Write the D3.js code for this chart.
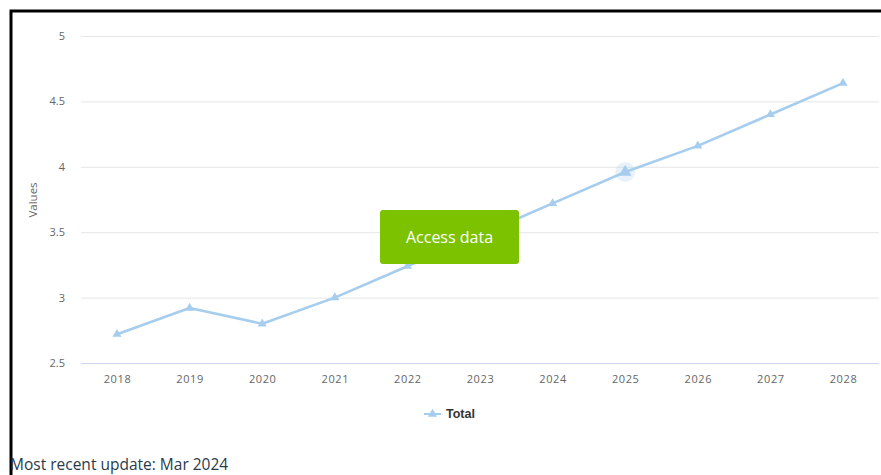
<!DOCTYPE html>
<html>
<head>
<meta charset="utf-8">
<script src="https://cdn.jsdelivr.net/npm/d3@7"></script>
<style>
  body { margin: 0; background: #fff; font-family: "Open Sans", "DejaVu Sans", sans-serif; }
</style>
</head>
<body>
<div id="chart-area"></div>
<script>
// data
var years = ["2018", "2019", "2020", "2021", "2022", "2023", "2024", "2025", "2026", "2027", "2028"];
var totals = [2.72, 2.92, 2.8, 3.0, 3.24, 3.48, 3.72, 3.96, 4.16, 4.4, 4.64];
var yTicks = [2.5, 3, 3.5, 4, 4.5, 5];

var svg = d3.select("#chart-area")
  .append("svg")
  .attr("width", 881)
  .attr("height", 475);

svg.append("rect")
  .attr("width", 881)
  .attr("height", 475)
  .attr("fill", "#fff");

// frame (top + left border of the screenshot)
svg.append("path")
  .attr("d", "M11,475 V11 H881")
  .attr("fill", "none")
  .attr("stroke", "#000")
  .attr("stroke-width", 3);

var plotLeft = 81, plotRight = 879, plotTop = 36, plotBottom = 363;

var x = d3.scalePoint()
  .domain(years)
  .range([117, 843]);

var y = d3.scaleLinear()
  .domain([2.5, 5])
  .range([plotBottom, plotTop]);

// gridlines
var yAxis = d3.axisLeft(y)
  .tickValues(yTicks)
  .tickSize(-(plotRight - plotLeft))
  .tickPadding(16)
  .tickFormat(d3.format("~g"));

var gy = svg.append("g")
  .attr("transform", "translate(" + plotLeft + ",0)")
  .call(yAxis);
gy.select(".domain").remove();
gy.selectAll(".tick line")
  .attr("stroke", "#e6e6e6")
  .attr("stroke-width", 1);
gy.selectAll(".tick text")
  .attr("fill", "#666")
  .attr("font-size", "11px")
  .attr("font-family", "Open Sans, sans-serif");

// x axis line
svg.append("line")
  .attr("x1", plotLeft)
  .attr("x2", plotRight)
  .attr("y1", plotBottom + 0.5)
  .attr("y2", plotBottom + 0.5)
  .attr("stroke", "#ccd6eb")
  .attr("stroke-width", 1);

var xAxis = d3.axisBottom(x)
  .tickSize(0)
  .tickPadding(12);

var gx = svg.append("g")
  .attr("transform", "translate(0," + plotBottom + ")")
  .call(xAxis);
gx.select(".domain").remove();
gx.selectAll(".tick text")
  .attr("fill", "#666")
  .attr("font-size", "11px")
  .attr("letter-spacing", "0.6px")
  .attr("font-family", "Open Sans, sans-serif");

// y axis title
svg.append("text")
  .attr("transform", "translate(37,200) rotate(-90)")
  .attr("text-anchor", "middle")
  .attr("font-size", "11.5px")
  .attr("fill", "#666")
  .text("Values");

// series line
var line = d3.line()
  .x(function(d, i) { return x(years[i]); })
  .y(function(d) { return y(d); });

var lineColor = "#a6cdee";

svg.append("path")
  .datum(totals)
  .attr("d", line)
  .attr("fill", "none")
  .attr("stroke", lineColor)
  .attr("stroke-width", 2.6)
  .attr("stroke-linejoin", "round");

// hover halo on 2025
svg.append("circle")
  .attr("cx", x("2025"))
  .attr("cy", y(totals[7]))
  .attr("r", 10)
  .attr("fill", lineColor)
  .attr("opacity", 0.25);

var tri = d3.symbol().type(d3.symbolTriangle);

svg.selectAll(".marker")
  .data(totals)
  .enter()
  .append("path")
  .attr("class", "marker")
  .attr("d", function(d, i) { return tri.size(i === 7 ? 70 : 36)(); })
  .attr("transform", function(d, i) {
    return "translate(" + x(years[i]) + "," + y(d) + ")";
  })
  .attr("fill", lineColor);

// access data button
svg.append("rect")
  .attr("x", 380)
  .attr("y", 210)
  .attr("width", 139)
  .attr("height", 54)
  .attr("rx", 3)
  .attr("fill", "#7cc200");

svg.append("text")
  .attr("x", 449.5)
  .attr("y", 243)
  .attr("text-anchor", "middle")
  .attr("font-size", "16px")
  .attr("fill", "#fff")
  .text("Access data");

// legend
svg.append("line")
  .attr("x1", 424)
  .attr("x2", 441)
  .attr("y1", 414)
  .attr("y2", 414)
  .attr("stroke", lineColor)
  .attr("stroke-width", 2);

svg.append("path")
  .attr("d", tri.size(36)())
  .attr("transform", "translate(432.5,414)")
  .attr("fill", lineColor);

svg.append("text")
  .attr("x", 446)
  .attr("y", 418)
  .attr("font-size", "12.5px")
  .attr("font-weight", "bold")
  .attr("font-family", "Liberation Sans, Arial, sans-serif")
  .attr("fill", "#333")
  .text("Total");

// footer
svg.append("text")
  .attr("x", 10)
  .attr("y", 470)
  .attr("font-size", "15.5px")
  .attr("fill", "#2b3a4a")
  .text("Most recent update: Mar 2024");
</script>
</body>
</html>
